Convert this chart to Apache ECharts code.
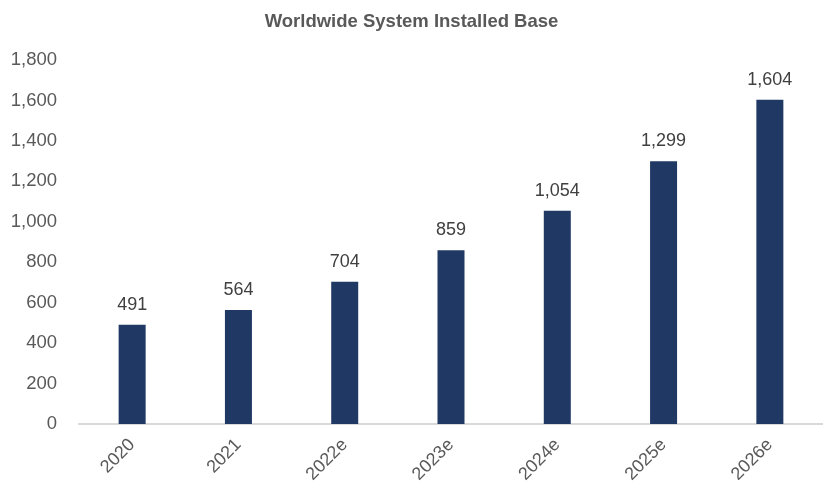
<!DOCTYPE html>
<html>
<head>
<meta charset="utf-8">
<script src="https://cdn.jsdelivr.net/npm/echarts@6/dist/echarts.min.js"></script>
<style>html,body{margin:0;padding:0;background:#fff;}#c{width:823px;height:487px;}</style>
</head>
<body>
<div id="c"></div>
<script>
const categories = ['2020', '2021', '2022e', '2023e', '2024e', '2025e', '2026e'];
const installedBase = [491, 564, 704, 859, 1054, 1299, 1604];
const yTicks = { min: 0, max: 1800, interval: 200 };

const FONT = 'Liberation Sans, Arial, sans-serif';
const chart = echarts.init(document.getElementById('c'), null, { renderer: 'canvas' });
chart.setOption({
  animation: false,
  backgroundColor: '#ffffff',
  title: {
    text: 'Worldwide System Installed Base',
    left: 'center',
    top: 7,
    textStyle: { fontFamily: FONT, fontSize: 18.5, fontWeight: 'bold', color: '#595959' }
  },
  grid: { left: 79, right: 0, top: 60, bottom: 63, containLabel: false },
  xAxis: {
    type: 'category',
    data: categories,
    axisLine: { lineStyle: { color: '#d9d9d9', width: 2 } },
    axisTick: { show: false },
    axisLabel: {
      rotate: 45,
      margin: 18,
      fontFamily: FONT,
      fontSize: 18,
      color: '#595959'
    }
  },
  yAxis: {
    type: 'value',
    min: yTicks.min,
    max: yTicks.max,
    interval: yTicks.interval,
    splitLine: { show: false },
    axisLine: { show: false },
    axisTick: { show: false },
    axisLabel: {
      margin: 22,
      fontFamily: FONT,
      fontSize: 18.5,
      color: '#595959',
      formatter: v => v.toLocaleString('en-US')
    }
  },
  series: [{
    type: 'bar',
    data: installedBase,
    barWidth: 27,
    itemStyle: { color: '#203864' },
    label: {
      show: true,
      position: 'top',
      distance: 11,
      fontFamily: FONT,
      fontSize: 18,
      color: '#404040',
      formatter: p => p.value.toLocaleString('en-US')
    }
  }]
});
</script>
</body>
</html>
